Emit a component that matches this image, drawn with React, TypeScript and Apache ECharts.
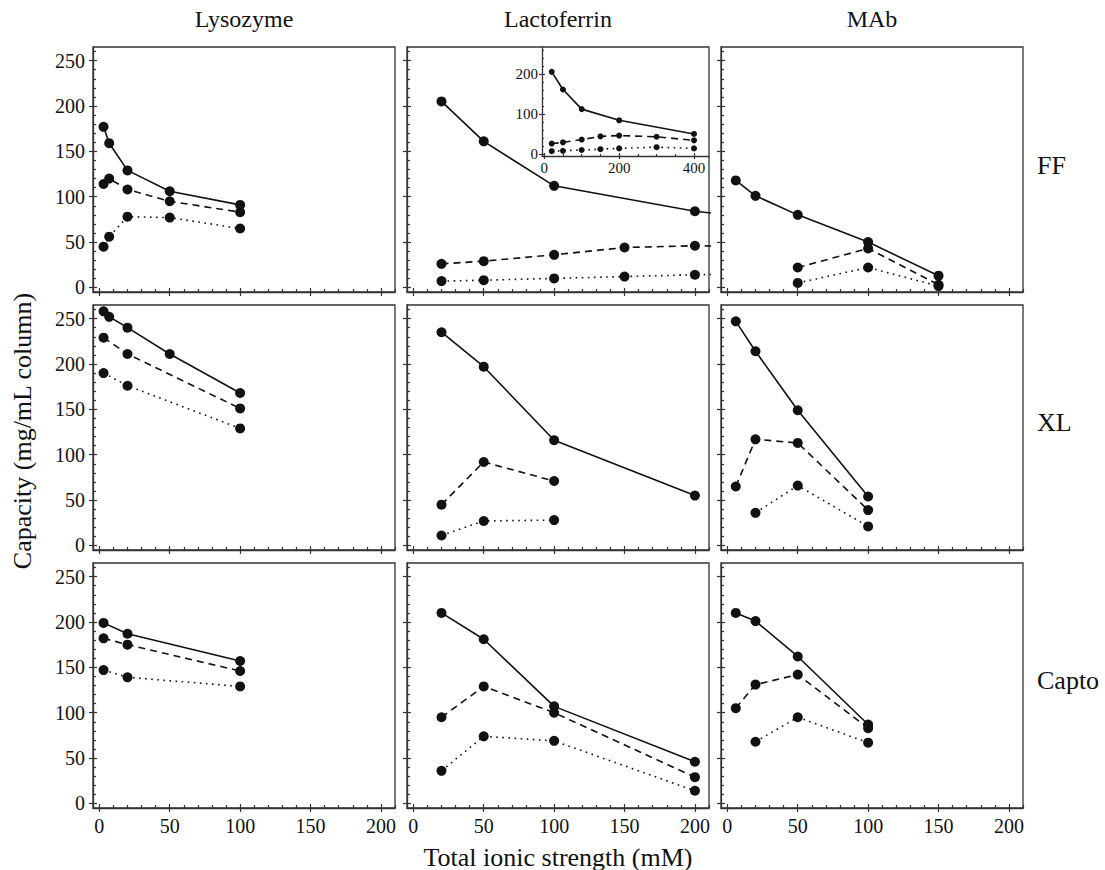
import React, { useEffect, useRef } from "react";
import * as echarts from "echarts";

// ---------- text ----------
const PROTEINS = ["Lysozyme", "Lactoferrin", "MAb"];
const RESINS = ["FF", "XL", "Capto"];
const X_TITLE = "Total ionic strength (mM)";
const Y_TITLE = "Capacity (mg/mL column)";

// ---------- ticks ----------
const X_TICKS = [0, 50, 100, 150, 200];
const Y_TICKS = [0, 50, 100, 150, 200, 250];
const INSET_X_TICKS = [0, 200, 400];
const INSET_Y_TICKS = [0, 100, 200];

// ---------- data: Lysozyme ----------
const LYS_FF_X = [3, 7, 20, 50, 100];
const LYS_FF_SOLID = [177, 159, 129, 106, 91];
const LYS_FF_DASHED = [114, 120, 108, 95, 83];
const LYS_FF_DOTTED = [45, 56, 78, 77, 65];

const LYS_XL_SOLID_X = [3, 7, 20, 50, 100];
const LYS_XL_SOLID = [258, 252, 240, 211, 168];
const LYS_XL_X = [3, 20, 100];
const LYS_XL_DASHED = [229, 211, 151];
const LYS_XL_DOTTED = [190, 176, 129];

const LYS_CAPTO_X = [3, 20, 100];
const LYS_CAPTO_SOLID = [199, 187, 157];
const LYS_CAPTO_DASHED = [182, 175, 146];
const LYS_CAPTO_DOTTED = [147, 139, 129];

// ---------- data: Lactoferrin ----------
const LAC_FF_SOLID_X = [20, 50, 100, 200, 400];
const LAC_FF_SOLID = [205, 161, 112, 84, 50];
const LAC_FF_X = [20, 50, 100, 150, 200, 300, 400];
const LAC_FF_DASHED = [26, 29, 36, 44, 46, 43, 34];
const LAC_FF_DOTTED = [7, 8, 10, 12, 14, 17, 14];

const LAC_XL_SOLID_X = [20, 50, 100, 200];
const LAC_XL_SOLID = [235, 197, 116, 55];
const LAC_XL_X = [20, 50, 100];
const LAC_XL_DASHED = [45, 92, 71];
const LAC_XL_DOTTED = [11, 27, 28];

const LAC_CAPTO_X = [20, 50, 100, 200];
const LAC_CAPTO_SOLID = [210, 181, 107, 46];
const LAC_CAPTO_DASHED = [95, 129, 100, 29];
const LAC_CAPTO_DOTTED = [36, 74, 69, 14];

// ---------- data: MAb ----------
const MAB_FF_SOLID_X = [6, 20, 50, 100, 150];
const MAB_FF_SOLID = [118, 101, 80, 50, 13];
const MAB_FF_X = [50, 100, 150];
const MAB_FF_DASHED = [22, 43, 3];
const MAB_FF_DOTTED = [5, 22, 1.5];

const MAB_XL_X = [6, 20, 50, 100];
const MAB_XL_SOLID = [247, 214, 149, 54];
const MAB_XL_DASHED = [65, 117, 113, 39];
const MAB_XL_DOTTED_X = [20, 50, 100];
const MAB_XL_DOTTED = [36, 66, 21];

const MAB_CAPTO_X = [6, 20, 50, 100];
const MAB_CAPTO_SOLID = [210, 201, 162, 87];
const MAB_CAPTO_DASHED = [105, 131, 142, 83];
const MAB_CAPTO_DOTTED_X = [20, 50, 100];
const MAB_CAPTO_DOTTED = [68, 95, 67];

const zip = (xs: number[], ys: number[]) => xs.map((x, i) => [x, ys[i]]);

// panels in row-major order (row = resin, col = protein)
const PANELS = [
  // FF
  { solid: zip(LYS_FF_X, LYS_FF_SOLID), dashed: zip(LYS_FF_X, LYS_FF_DASHED), dotted: zip(LYS_FF_X, LYS_FF_DOTTED) },
  { solid: zip(LAC_FF_SOLID_X, LAC_FF_SOLID), dashed: zip(LAC_FF_X, LAC_FF_DASHED), dotted: zip(LAC_FF_X, LAC_FF_DOTTED) },
  { solid: zip(MAB_FF_SOLID_X, MAB_FF_SOLID), dashed: zip(MAB_FF_X, MAB_FF_DASHED), dotted: zip(MAB_FF_X, MAB_FF_DOTTED) },
  // XL
  { solid: zip(LYS_XL_SOLID_X, LYS_XL_SOLID), dashed: zip(LYS_XL_X, LYS_XL_DASHED), dotted: zip(LYS_XL_X, LYS_XL_DOTTED) },
  { solid: zip(LAC_XL_SOLID_X, LAC_XL_SOLID), dashed: zip(LAC_XL_X, LAC_XL_DASHED), dotted: zip(LAC_XL_X, LAC_XL_DOTTED) },
  { solid: zip(MAB_XL_X, MAB_XL_SOLID), dashed: zip(MAB_XL_X, MAB_XL_DASHED), dotted: zip(MAB_XL_DOTTED_X, MAB_XL_DOTTED) },
  // Capto
  { solid: zip(LYS_CAPTO_X, LYS_CAPTO_SOLID), dashed: zip(LYS_CAPTO_X, LYS_CAPTO_DASHED), dotted: zip(LYS_CAPTO_X, LYS_CAPTO_DOTTED) },
  { solid: zip(LAC_CAPTO_X, LAC_CAPTO_SOLID), dashed: zip(LAC_CAPTO_X, LAC_CAPTO_DASHED), dotted: zip(LAC_CAPTO_X, LAC_CAPTO_DOTTED) },
  { solid: zip(MAB_CAPTO_X, MAB_CAPTO_SOLID), dashed: zip(MAB_CAPTO_X, MAB_CAPTO_DASHED), dotted: zip(MAB_CAPTO_DOTTED_X, MAB_CAPTO_DOTTED) },
];
const INSET = {
  solid: zip(LAC_FF_SOLID_X, LAC_FF_SOLID),
  dashed: zip(LAC_FF_X, LAC_FF_DASHED),
  dotted: zip(LAC_FF_X, LAC_FF_DOTTED),
};

// ---------- style / layout ----------
const SERIF = "Liberation Serif, Times New Roman, serif";
const INK = "#111";
const FRAME = "#333";
const COL_LEFT = [93, 407, 721];
const ROW_TOP = [47, 305, 563];
const PANEL_W = 302;
const PANEL_H = 245;
const X_MIN = -4.5, X_MAX = 210;
const Y_MIN = -5, Y_MAX = 265;

const minorValues = (lo: number, hi: number, step: number, major: number) => {
  const out: number[] = [];
  for (let v = lo; v <= hi; v += step) if (v % major !== 0) out.push(v);
  return out;
};

function axisTriple(
  dim: "x" | "y",
  gridIndex: number,
  min: number,
  max: number,
  majors: number[],
  minors: number[],
  showLabels: boolean,
  fontSize: number,
  margin: number,
  majorLen: number,
  minorLen: number,
  showLine: boolean
) {
  const base: any = {
    type: "value",
    gridIndex,
    min,
    max,
    position: dim === "x" ? "bottom" : "left",
    splitLine: { show: false },
    minorTick: { show: false },
    axisPointer: { show: false },
  };
  const tickStyle = { color: FRAME, width: 1.2 };
  return [
    {
      ...base,
      axisLine: { show: showLine, onZero: false, lineStyle: { color: FRAME, width: 1.3 } },
      axisTick: { show: true, inside: false, length: majorLen, customValues: majors, lineStyle: tickStyle },
      axisLabel: {
        show: showLabels,
        customValues: majors,
        fontFamily: SERIF,
        fontSize,
        color: INK,
        margin,
      },
    },
    {
      ...base,
      axisLine: { show: false, onZero: false },
      axisTick: { show: true, inside: true, length: majorLen, customValues: majors, lineStyle: tickStyle },
      axisLabel: { show: false },
    },
    {
      ...base,
      axisLine: { show: false, onZero: false },
      axisTick: { show: true, inside: true, length: minorLen, customValues: minors, lineStyle: tickStyle },
      axisLabel: { show: false },
    },
  ];
}

function lineSeries(data: number[][], kind: "solid" | "dashed" | "dotted", axisIndex: number, size: number) {
  const type = kind === "solid" ? "solid" : kind === "dashed" ? [7, 5] : [1.6, 4.5];
  return {
    type: "line",
    xAxisIndex: axisIndex,
    yAxisIndex: axisIndex,
    data,
    clip: true,
    symbol: "circle",
    symbolSize: size,
    showSymbol: true,
    itemStyle: { color: INK, borderWidth: 0 },
    lineStyle: { color: INK, width: 1.6, type },
    emphasis: { disabled: true },
    z: 3,
  };
}

function buildOption() {
  const grid: any[] = [];
  const xAxis: any[] = [];
  const yAxis: any[] = [];
  const series: any[] = [];

  const xMinors = minorValues(0, 210, 10, 50);
  const yMinors = minorValues(0, 265, 10, 50);

  PANELS.forEach((p, i) => {
    const row = Math.floor(i / 3);
    const col = i % 3;
    grid.push({
      left: COL_LEFT[col],
      top: ROW_TOP[row],
      width: PANEL_W,
      height: PANEL_H,
      show: true,
      borderColor: FRAME,
      borderWidth: 1.3,
      backgroundColor: "transparent",
      containLabel: false,
    });
    const axisIndex = xAxis.length;
    xAxis.push(...axisTriple("x", i, X_MIN, X_MAX, X_TICKS, xMinors, row === 2, 20, 8, 4, 3, true));
    yAxis.push(...axisTriple("y", i, Y_MIN, Y_MAX, Y_TICKS, yMinors, col === 0, 20, 8, 4, 3, true));
    series.push(lineSeries(p.solid, "solid", axisIndex, 10));
    series.push(lineSeries(p.dashed, "dashed", axisIndex, 10));
    series.push(lineSeries(p.dotted, "dotted", axisIndex, 10));
  });

  // inset in Lactoferrin / FF panel
  const insetGrid = grid.length;
  grid.push({ left: 542, top: 47, width: 167, height: 109, show: false, containLabel: false });
  const insetAxis = xAxis.length;
  xAxis.push(
    ...axisTriple("x", insetGrid, -6, 440, INSET_X_TICKS, minorValues(0, 440, 50, 200), true, 15, 4, 3, 2, true)
  );
  yAxis.push(
    ...axisTriple("y", insetGrid, -5, 267, INSET_Y_TICKS, minorValues(0, 267, 20, 100), true, 15, 4, 3, 2, true)
  );
  series.push(lineSeries(INSET.solid, "solid", insetAxis, 6));
  series.push(lineSeries(INSET.dashed, "dashed", insetAxis, 6));
  series.push(lineSeries(INSET.dotted, "dotted", insetAxis, 6));

  const txt = (text: string, x: number, y: number, align: string, size: number, rotation = 0) => ({
    type: "text",
    x,
    y,
    rotation,
    silent: true,
    style: {
      text,
      fill: INK,
      fontFamily: SERIF,
      fontSize: size,
      textAlign: align,
      textVerticalAlign: "middle",
    },
  });

  const graphic: any[] = [];
  PROTEINS.forEach((name, c) => graphic.push(txt(name, COL_LEFT[c] + PANEL_W / 2, 19, "center", 24)));
  RESINS.forEach((name, r) => graphic.push(txt(name, 1037, ROW_TOP[r] + [118, 117, 117][r], "left", 26)));
  graphic.push(txt(X_TITLE, 558, 857, "center", 26));
  graphic.push(txt(Y_TITLE, 22, 431, "center", 26, Math.PI / 2));

  return {
    animation: false,
    backgroundColor: "#fff",
    textStyle: { fontFamily: SERIF },
    tooltip: { show: false },
    grid,
    xAxis,
    yAxis,
    series,
    graphic,
  };
}

export default function App() {
  const ref = useRef<HTMLDivElement>(null);
  useEffect(() => {
    if (!ref.current) return;
    const chart = echarts.init(ref.current, undefined, { renderer: "svg" });
    chart.setOption(buildOption() as any);
    return () => chart.dispose();
  }, []);
  return (
    <div
      ref={ref}
      style={{ position: "absolute", left: 0, top: 0, width: 1105, height: 870, background: "#fff" }}
    />
  );
}
